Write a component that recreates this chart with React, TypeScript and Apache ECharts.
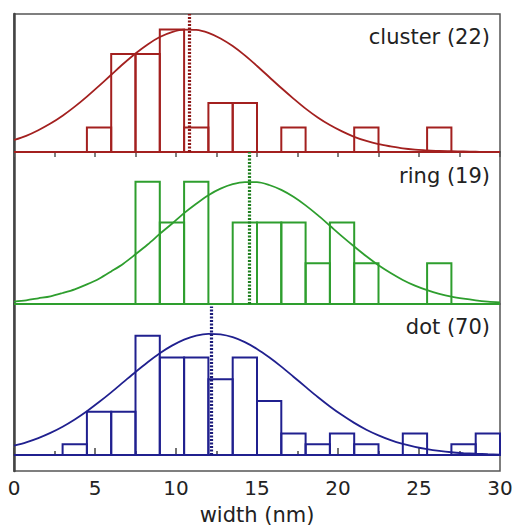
import React, { useEffect, useRef } from "react";
import * as echarts from "echarts";

// histogram bins (start, width 1.5 nm)
const binStarts = [3, 4.5, 6, 7.5, 9, 10.5, 12, 13.5, 15, 16.5, 18, 19.5, 21, 22.5, 24, 25.5, 27, 28.5];
const binWidth = 1.5;
const clusterCounts = [0, 1, 4, 4, 5, 1, 2, 2, 0, 1, 0, 0, 1, 0, 0, 1, 0, 0];
const ringCounts = [0, 0, 0, 3, 2, 3, 0, 2, 2, 2, 1, 2, 1, 0, 0, 1, 0, 0];
const dotCounts = [1, 4, 4, 11, 9, 9, 7, 9, 5, 2, 1, 2, 1, 0, 2, 0, 1, 2];

// fitted curves (x every 0.75 nm from 0 to 30)
const fitX = [
  0, 0.75, 1.5, 2.25, 3, 3.75, 4.5, 5.25, 6, 6.75, 7.5, 8.25, 9, 9.75, 10.5, 11.25, 12, 12.75, 13.5, 14.25,
  15, 15.75, 16.5, 17.25, 18, 18.75, 19.5, 20.25, 21, 21.75, 22.5, 23.25, 24, 24.75, 25.5, 26.25, 27, 27.75,
  28.5, 29.25, 30,
];
const clusterFit = [
  0.49, 0.66, 0.89, 1.16, 1.48, 1.85, 2.26, 2.7, 3.15, 3.6, 4.02, 4.39, 4.69, 4.89, 4.99, 4.98, 4.86, 4.63, 4.32, 3.94,
  3.51, 3.06, 2.61, 2.18, 1.77, 1.41, 1.1, 0.84, 0.62, 0.45, 0.32, 0.23, 0.15, 0.1, 0.07, 0.04, 0.03, 0.02,
  0.01, 0.0, 0.0,
];
const ringFit = [
  0.06, 0.09, 0.14, 0.19, 0.27, 0.36, 0.48, 0.62, 0.8, 0.99, 1.22, 1.46, 1.72, 1.97, 2.23, 2.46, 2.67, 2.83, 2.94, 2.99,
  2.99, 2.92, 2.8, 2.63, 2.42, 2.18, 1.92, 1.66, 1.41, 1.17, 0.95, 0.76, 0.59, 0.45, 0.34, 0.25, 0.18, 0.13,
  0.09, 0.06, 0.04,
];
const dotFit = [
  0.87, 1.18, 1.57, 2.05, 2.62, 3.29, 4.05, 4.89, 5.79, 6.73, 7.67, 8.57, 9.4, 10.1, 10.66, 11.03, 11.19, 11.14, 10.88, 10.42,
  9.79, 9.02, 8.16, 7.23, 6.29, 5.36, 4.49, 3.69, 2.97, 2.34, 1.82, 1.38, 1.03, 0.75, 0.54, 0.38, 0.26, 0.18,
  0.12, 0.08, 0.05,
];

// mean widths
const clusterMean = 10.8;
const ringMean = 14.55;
const dotMean = 12.2;

const panelLabels = ["cluster (22)", "ring (19)", "dot (70)"];
const xTicks = [0, 5, 10, 15, 20, 25, 30];

const FONT = "DejaVu Sans";

export default function App() {
  const ref = useRef<HTMLDivElement>(null);

  useEffect(() => {
    if (!ref.current) return;
    const chart = echarts.init(ref.current, null, { renderer: "svg" });

    const panels = [
      { counts: clusterCounts, fit: clusterFit, mean: clusterMean, color: "#a3201f", dark: "#8c1616", yMin: 0, yMax: 5.63, meanTop: 5.63 },
      { counts: ringCounts, fit: ringFit, mean: ringMean, color: "#2e9e2e", dark: "#1f7f1f", yMin: 0, yMax: 3.73, meanTop: 3.73 },
      { counts: dotCounts, fit: dotFit, mean: dotMean, color: "#20208f", dark: "#1a1a7a", yMin: -1.47, yMax: 13.94, meanTop: 13.7 },
    ];

    const grids = [
      { left: 14, right: 18, top: 14, height: 138 },
      { left: 14, right: 18, top: 152, height: 152 },
      { left: 14, right: 18, top: 304, height: 168 },
    ].map((g) => ({ ...g, show: true, borderColor: "#555", borderWidth: 1.5, containLabel: false }));

    const xAxes: any[] = [
      {
        gridIndex: 0, type: "value", min: 0, max: 30, interval: 2.5, position: "top",
        axisLine: { show: true, lineStyle: { color: "#555", width: 2 } },
        axisTick: { show: true, inside: true, length: 5, lineStyle: { color: "#555", width: 1.5 } },
        axisLabel: { show: false }, splitLine: { show: false },
      },
      { gridIndex: 1, type: "value", min: 0, max: 30, show: false },
      {
        gridIndex: 2, type: "value", min: 0, max: 30, interval: 5, position: "bottom",
        axisLine: { show: true, lineStyle: { color: "#444", width: 2 } },
        axisTick: { show: true, inside: true, length: 7, lineStyle: { color: "#444", width: 1.5 } },
        minorTick: { show: true, splitNumber: 2, length: 4, lineStyle: { color: "#444", width: 1.5 } },
        axisLabel: {
          show: true, fontSize: 20, color: "#222", margin: 7, fontFamily: FONT,
          formatter: (v: number) => (xTicks.includes(v) ? String(v) : ""),
        },
        splitLine: { show: false },
        name: "width (nm)", nameLocation: "middle", nameGap: 33,
        nameTextStyle: { fontSize: 21, color: "#222", fontFamily: FONT },
      },
    ];

    const yAxes: any[] = panels.map((p, i) => ({
      gridIndex: i, type: "value", min: p.yMin, max: p.yMax,
      axisLine: { show: true, lineStyle: { color: "#444", width: 2.5 } },
      axisTick: { show: false }, axisLabel: { show: false }, splitLine: { show: false },
    }));

    const series: any[] = [];
    panels.forEach((p, i) => {
      const barData = binStarts.map((s, k) => [s, s + binWidth, p.counts[k]]);
      series.push({
        type: "custom",
        xAxisIndex: i, yAxisIndex: i,
        data: barData,
        silent: true,
        renderItem: (params: any, api: any) => {
          const x0 = api.value(0);
          const x1 = api.value(1);
          const c = api.value(2);
          if (!c) return null;
          const p0 = api.coord([x0, c]);
          const p1 = api.coord([x1, 0]);
          return {
            type: "rect",
            shape: { x: p0[0], y: p0[1], width: p1[0] - p0[0], height: p1[1] - p0[1] },
            style: { fill: "none", stroke: p.color, lineWidth: 2 },
          };
        },
        z: 2,
      });
      series.push({
        type: "line",
        xAxisIndex: i, yAxisIndex: i,
        data: fitX.map((x, k) => [x, p.fit[k]]),
        smooth: 0.3,
        showSymbol: false,
        silent: true,
        lineStyle: { color: p.color, width: 1.8 },
        z: 3,
        markLine: {
          silent: true,
          symbol: ["none", "none"],
          label: { show: false },
          animation: false,
          data: [
            { yAxis: 0, lineStyle: { type: "solid", width: 2, color: p.color } },
            [
              { coord: [p.mean, 0], lineStyle: { type: [2, 1.5], width: 3.2, color: p.dark } },
              { coord: [p.mean, p.meanTop] },
            ],
          ],
        },
      });
    });

    const titleTops = [26, 165, 316];
    const title = panelLabels.map((t, i) => ({
      text: t, right: 28, top: titleTops[i], padding: 0,
      textStyle: { fontSize: 21, fontWeight: "normal", color: "#222", fontFamily: FONT },
    }));

    chart.setOption({
      animation: false,
      backgroundColor: "#fff",
      title,
      grid: grids,
      xAxis: xAxes,
      yAxis: yAxes,
      series,
    });

    return () => chart.dispose();
  }, []);

  return <div ref={ref} style={{ position: "absolute", left: 0, top: 0, width: 518, height: 526 }} />;
}
